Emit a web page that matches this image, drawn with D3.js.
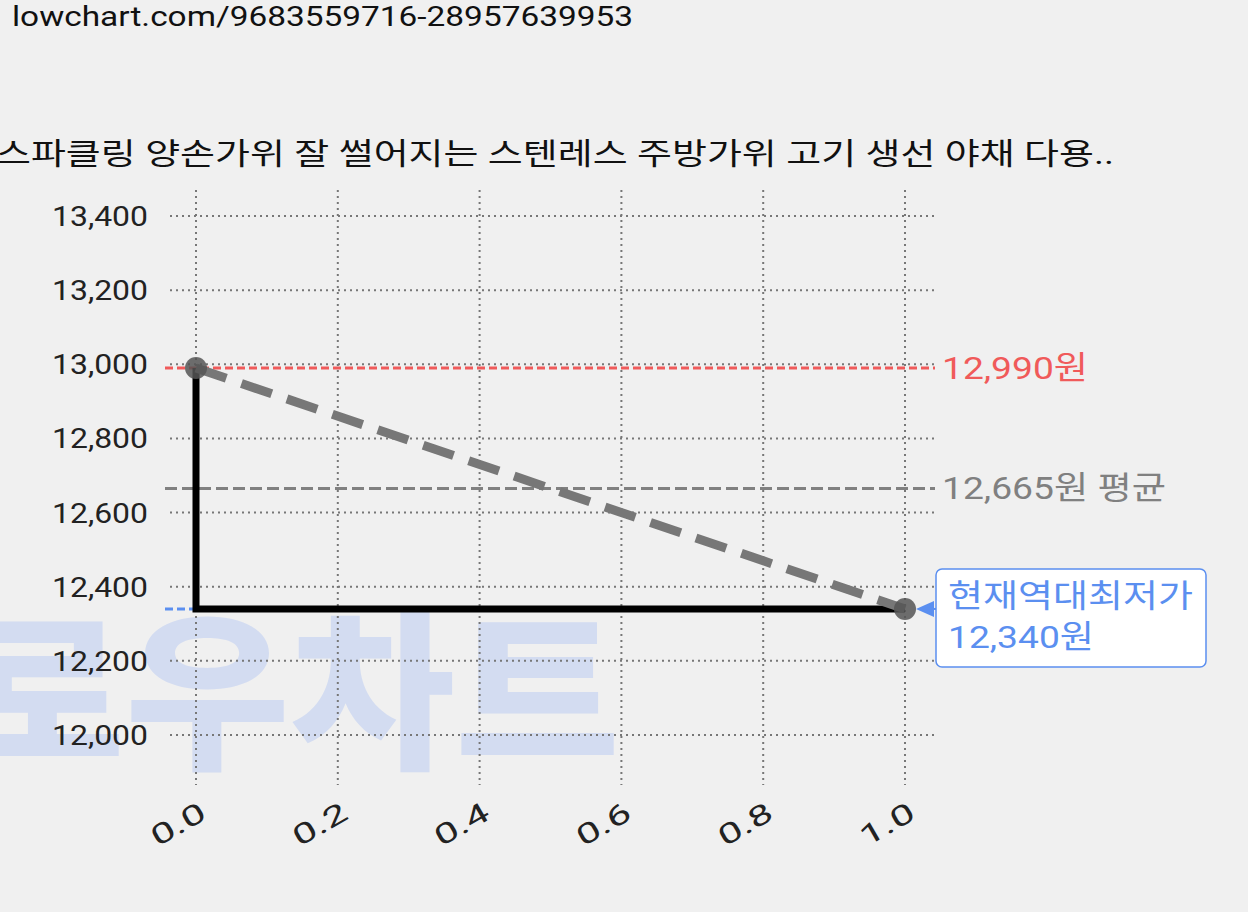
<!DOCTYPE html>
<html><head><meta charset="utf-8">
<script src="https://d3js.org/d3.v7.min.js"></script>
<style>body{margin:0;background:#f0f0f0;font-family:Roboto,"Noto Sans CJK KR",sans-serif}</style>
</head><body>
<script>
// data
var xTicks = [0, 0.2, 0.4, 0.6, 0.8, 1.0];
var yTicks = [12000, 12200, 12400, 12600, 12800, 13000, 13200, 13400];
var prices = [12990, 12340];
var maxPrice = 12990, avgPrice = 12665, minPrice = 12340;
var title = "스파클링 양손가위 잘 썰어지는 스텐레스 주방가위 고기 생선 야채 다용..";

var w = 1248, h = 912;
var svg = d3.select("body").append("svg").attr("width", w).attr("height", h)
  .style("font-family", 'Roboto,"Noto Sans CJK KR",sans-serif');
var x = d3.scaleLinear().domain([0, 1]).range([196, 905]);
var y = d3.scaleLinear().domain([12000, 13400]).range([735, 216]);

function stretched(tx, ty, str, len, size, fill) {
  return svg.append("text").attr("x", tx).attr("y", ty).text(str)
    .attr("textLength", len).attr("lengthAdjust", "spacingAndGlyphs")
    .style("font-size", size + "px").attr("fill", fill);
}

// watermark
stretched(-40, 756, "로우차트", 660, 170, "#d3dcf1").style("font-weight", 900)
  .attr("font-family", '"Noto Sans CJK KR"');

stretched(12, 26, "lowchart.com/9683559716-28957639953", 621, 28, "#111");
stretched(-4, 164, title, 1118, 30, "#111");

// grid
svg.selectAll(".hg").data(yTicks).enter().append("line")
  .attr("x1", 170).attr("x2", 935).attr("y1", d => y(d)).attr("y2", d => y(d))
  .attr("stroke", "#777").attr("stroke-width", 2).attr("stroke-dasharray", "2,4");
svg.selectAll(".vg").data(xTicks).enter().append("line")
  .attr("x1", d => x(d)).attr("x2", d => x(d)).attr("y1", 190).attr("y2", 785)
  .attr("stroke", "#777").attr("stroke-width", 2).attr("stroke-dasharray", "2,4");

// axis labels
svg.selectAll(".yl").data(yTicks).enter().append("text")
  .attr("x", 148).attr("y", d => y(d) + 10).attr("text-anchor", "end")
  .attr("textLength", 96).attr("lengthAdjust", "spacingAndGlyphs")
  .text(d3.format(",")).style("font-size", "28px").attr("fill", "#222");
svg.selectAll(".xl").data(xTicks).enter().append("text")
  .attr("transform", d => "translate(" + (x(d) + 12) + ",818) rotate(-30)")
  .attr("text-anchor", "end").attr("textLength", 58).attr("lengthAdjust", "spacingAndGlyphs")
  .text(d => d.toFixed(1)).style("font-size", "28px").attr("fill", "#222");

// reference lines
svg.append("line").attr("x1", 165).attr("x2", 935).attr("y1", y(maxPrice)).attr("y2", y(maxPrice))
  .attr("stroke", "#f05a5a").attr("stroke-width", 3).attr("stroke-dasharray", "8,4");
svg.append("line").attr("x1", 165).attr("x2", 935).attr("y1", y(avgPrice)).attr("y2", y(avgPrice))
  .attr("stroke", "#808080").attr("stroke-width", 3).attr("stroke-dasharray", "12,5");
svg.append("line").attr("x1", 165).attr("x2", 905).attr("y1", y(minPrice)).attr("y2", y(minPrice))
  .attr("stroke", "#5b8ff0").attr("stroke-width", 3).attr("stroke-dasharray", "8,4");

// step line
svg.append("path").attr("d", d3.line()(
    [[x(0), y(prices[0])], [x(0), y(prices[1])], [x(1), y(prices[1])]]))
  .attr("fill", "none").attr("stroke", "#000").attr("stroke-width", 7);
// trend
svg.append("path").attr("d", d3.line()(prices.map((p, i) => [x(i), y(p)])))
  .attr("stroke", "#777").attr("stroke-width", 9).attr("stroke-dasharray", "32,16").attr("fill", "none");
svg.selectAll(".pt").data(prices).enter().append("circle")
  .attr("cx", (d, i) => x(i)).attr("cy", d => y(d)).attr("r", 11)
  .attr("fill", "#555").attr("opacity", 0.85);

// labels
stretched(942, y(maxPrice) + 11, "12,990원", 146, 32, "#f05a5a");
stretched(942, y(avgPrice) + 11, "12,665원 평균", 224, 32, "#808080");
svg.append("rect").attr("x", 936).attr("y", 569).attr("width", 270).attr("height", 98).attr("rx", 6)
  .attr("fill", "#fff").attr("stroke", "#5b8ff0").attr("stroke-width", 1.5);
svg.append("path").attr("d", "M916," + y(minPrice) + " l18,-8 v16 z").attr("fill", "#5b8ff0");
svg.append("line").attr("x1", 925).attr("x2", 936).attr("y1", y(minPrice)).attr("y2", y(minPrice))
  .attr("stroke", "#5b8ff0").attr("stroke-width", 2);
stretched(948, 607, "현재역대최저가", 245, 32, "#5b8ff0");
stretched(948, 648, "12,340원", 146, 32, "#5b8ff0");
</script>
</body></html>
